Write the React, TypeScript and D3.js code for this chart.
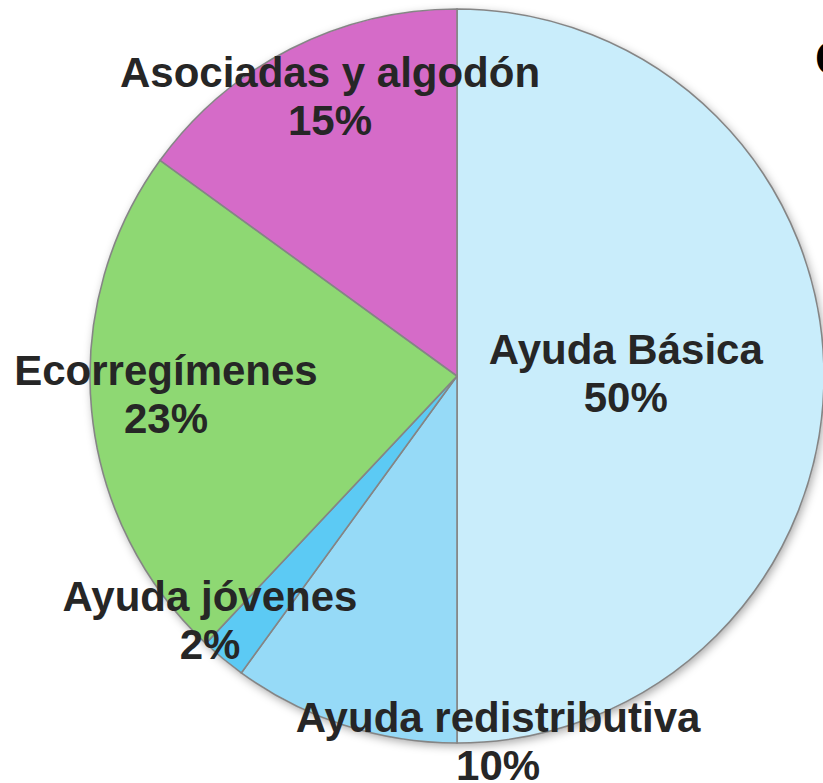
import React from 'react';
import { pie, arc } from 'd3';

// slices, clockwise from 12 o'clock
const categories = ['Ayuda Básica', 'Ayuda redistributiva', 'Ayuda jóvenes', 'Ecorregímenes', 'Asociadas y algodón'];
const shares = [50, 10, 2, 23, 15];
const colors = ['#c9edfb', '#96daf7', '#5ccaf4', '#8ed873', '#d56bc8'];
// label anchor (first line baseline), as a fraction of the radius from the centre
const labelX = [0.46, 0.112, -0.673, -0.793, -0.346];
const labelY = [-0.033, 0.97, 0.64, 0.025, -0.787];

const W = 823, H = 783;
const cx = 457, cy = 376, R = 367;

function App() {
    const slices = pie<number>().sort(null).value(d => d)(shares);
    const sliceArc = arc<any>().innerRadius(0).outerRadius(R);

    return (
        <svg width={W} height={H} style={{ position: 'absolute', left: 0, top: 0, background: '#fff' }}>
            <defs>
                <filter id="shadow" x="-10%" y="-10%" width="120%" height="120%">
                    <feDropShadow dx="2" dy="3" stdDeviation="5" floodColor="#000" floodOpacity="0.35" />
                </filter>
            </defs>
            <g transform={`translate(${cx},${cy})`}>
                <circle r={R} fill="#fff" filter="url(#shadow)" />
                {slices.map((s, i) => (
                    <path key={i} d={sliceArc(s) || ''} fill={colors[i]} stroke="#858585" strokeWidth={1.6} />
                ))}
                {slices.map((s, i) => (
                    <text key={'t' + i}
                        x={labelX[i] * R} y={labelY[i] * R}
                        textAnchor="middle"
                        fontFamily="'Liberation Sans', Arial, sans-serif"
                        fontWeight="bold" fontSize={42} fill="#262626">
                        <tspan x={labelX[i] * R}>{categories[i]}</tspan>
                        <tspan x={labelX[i] * R} dy={48}>{shares[i]}%</tspan>
                    </text>
                ))}
            </g>
            <text x={815} y={75} fontFamily="'Liberation Sans', Arial, sans-serif" fontWeight="bold" fontSize={48} fill="#000">C</text>
        </svg>
    );
}

export default App;
